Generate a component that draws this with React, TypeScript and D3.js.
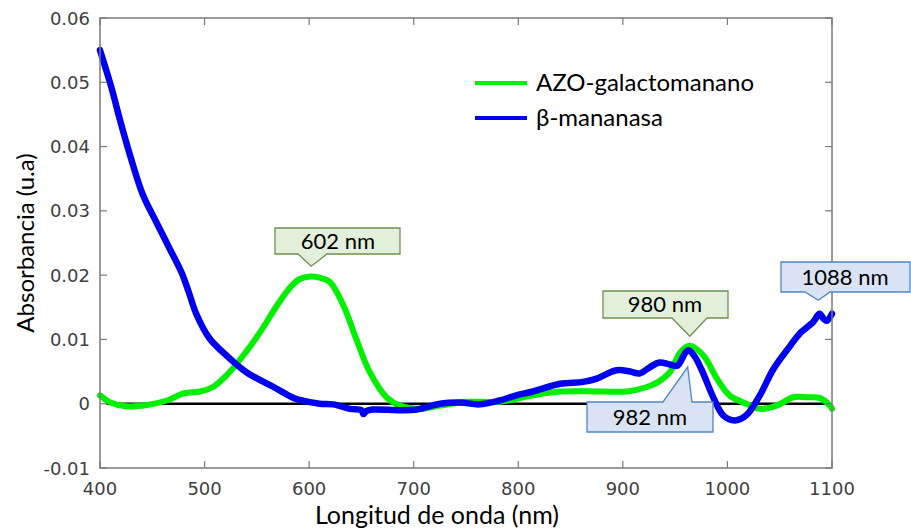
import * as d3 from "d3";

// AZO-galactomanano (green)
const greenNm = [400, 410, 425, 445, 464, 480, 496, 508, 521, 537, 553, 569, 582, 591, 601, 610, 620, 633, 645, 658, 674, 687, 706, 725, 751, 782, 814, 840, 878, 904, 923, 934, 945, 955, 964, 977, 990, 1002, 1018, 1031, 1047, 1063, 1076, 1088, 1098, 1100];
const greenAbs = [0.0013, 0.0002, -0.0004, -0.0002, 0.0005, 0.0016, 0.0019, 0.0026, 0.0044, 0.0075, 0.0111, 0.0152, 0.0181, 0.0194, 0.0198, 0.0196, 0.0189, 0.0152, 0.0101, 0.0049, 0.001, -0.0003, -0.0008, -0.0003, 0.0003, 0.0003, 0.0013, 0.0019, 0.0019, 0.0019, 0.0026, 0.0034, 0.0049, 0.008, 0.009, 0.0075, 0.0039, 0.0013, 0.0, -0.0008, -0.0003, 0.001, 0.001, 0.0009, -0.0003, -0.0008];

// beta-mananasa (blue)
const blueNm = [400, 410, 420, 429, 441, 454, 467, 478, 485, 492, 505, 521, 540, 566, 585, 591, 610, 623, 639, 650, 652, 655, 661, 687, 703, 725, 744, 763, 782, 798, 814, 840, 862, 875, 894, 907, 916, 926, 935, 945, 952, 962, 968, 975, 987, 996, 1007, 1018, 1031, 1044, 1060, 1069, 1082, 1088, 1092, 1095, 1100];
const blueAbs = [0.055, 0.0497, 0.0436, 0.0385, 0.0325, 0.0282, 0.024, 0.0204, 0.0173, 0.014, 0.0101, 0.0075, 0.0049, 0.0026, 0.0009, 0.0006, 0.0, -0.0001, -0.0008, -0.0010, -0.0016, -0.0011, -0.0009, -0.001, -0.0009, 0.0, 0.0002, -0.0001, 0.0005, 0.0013, 0.0019, 0.0031, 0.0034, 0.0039, 0.0052, 0.005, 0.0047, 0.0057, 0.0064, 0.0061, 0.0059, 0.0083, 0.0075, 0.0054, 0.0008, -0.0018, -0.0026, -0.0018, 0.0013, 0.0054, 0.009, 0.0109, 0.0127, 0.014, 0.0132, 0.0129, 0.014];

const xTicks = [400, 500, 600, 700, 800, 900, 1000, 1100];
const yTicks = [-0.01, 0, 0.01, 0.02, 0.03, 0.04, 0.05, 0.06];

const seriesNames = ["AZO-galactomanano", "β-mananasa"];
const seriesColors = ["#00f000", "#0000f0"];

// callouts: label, pointer tip (nm, absorbance)
const calloutLabels = ["602 nm", "980 nm", "1088 nm", "982 nm"];
const calloutNm = [602, 964, 1087, 962];
const calloutAbs = [0.0214, 0.0105, 0.0161, 0.0057];

const W = 911;
const H = 529;
const left = 100;
const right = 832;
const top = 18;
const bottom = 468;

const x = d3.scaleLinear().domain([400, 1100]).range([left, right]);
const y = d3.scaleLinear().domain([-0.01, 0.06]).range([bottom, top]);

const line = d3
  .line<[number, number]>()
  .x((d) => x(d[0]))
  .y((d) => y(d[1]))
  .curve(d3.curveCatmullRom.alpha(0.5));

const greenPts = greenNm.map((n, i) => [n, greenAbs[i]] as [number, number]);
const bluePts = blueNm.map((n, i) => [n, blueAbs[i]] as [number, number]);

const green = { fill: "#e2efda", stroke: "#6e9150" };
const blue = { fill: "#dae3f3", stroke: "#4f87c6" };

// box geometry relative to the pointer tip
function calloutDown(tx: number, ty: number, bx0: number, bx1: number, by0: number, by1: number, pl: number, pr: number) {
  return `M${bx0},${by0}H${bx1}V${by1}H${pr}L${tx},${ty}L${pl},${by1}H${bx0}Z`;
}
function calloutUp(tx: number, ty: number, bx0: number, bx1: number, by0: number, by1: number, pl: number, pr: number) {
  return `M${bx0},${by0}H${pl}L${tx},${ty}L${pr},${by0}H${bx1}V${by1}H${bx0}Z`;
}

export default function App() {
  const axisColor = "#7a7a7a";
  const tickFont = "'DejaVu Sans', Verdana, sans-serif";
  const titleFont = "Lato, 'Open Sans', sans-serif";
  const fmt = d3.format(".2f");

  const tips = calloutNm.map((n, i) => [x(n), y(calloutAbs[i])]);

  const boxes = [
    { d: calloutDown(tips[0][0], tips[0][1], 275, 400, 228, 254, 298, 327), c: green, tx: 338, ty: 249 },
    { d: calloutDown(tips[1][0], tips[1][1], 603, 728, 291, 318, 672, 707), c: green, tx: 665, ty: 312 },
    { d: calloutDown(tips[2][0], tips[2][1], 781, 910, 262, 292, 805, 830), c: blue, tx: 845, ty: 285 },
    { d: calloutUp(tips[3][0], tips[3][1], 587, 713, 402, 432, 663, 692), c: blue, tx: 650, ty: 425 },
  ];

  return (
    <svg width={W} height={H} style={{ position: "absolute", left: 0, top: 0, background: "#fff" }}>
      {/* zero line */}
      <line x1={x(406)} x2={x(1098)} y1={y(0)} y2={y(0)} stroke="#000" strokeWidth={2.5} />

      <path d={line(greenPts) || ""} fill="none" stroke={seriesColors[0]} strokeWidth={6} strokeLinejoin="round" strokeLinecap="round" />
      <path d={line(bluePts) || ""} fill="none" stroke={seriesColors[1]} strokeWidth={6.5} strokeLinejoin="round" strokeLinecap="round" />

      {/* axes box */}
      <rect x={left} y={top} width={right - left} height={bottom - top} fill="none" stroke={axisColor} strokeWidth={1.5} />
      {xTicks.map((t) => (
        <g key={"x" + t}>
          <line x1={x(t)} x2={x(t)} y1={bottom} y2={bottom - 7} stroke={axisColor} strokeWidth={1.2} />
          <line x1={x(t)} x2={x(t)} y1={top} y2={top + 7} stroke={axisColor} strokeWidth={1.2} />
          <text x={x(t)} y={bottom + 27} textAnchor="middle" fontFamily={tickFont} fontSize={18} fill="#404040">
            {t}
          </text>
        </g>
      ))}
      {yTicks.map((t) => (
        <g key={"y" + t}>
          <line x1={left} x2={left + 7} y1={y(t)} y2={y(t)} stroke={axisColor} strokeWidth={1.2} />
          <line x1={right} x2={right - 7} y1={y(t)} y2={y(t)} stroke={axisColor} strokeWidth={1.2} />
          <text x={90} y={y(t) + 6.5} textAnchor="end" fontFamily={tickFont} fontSize={18} fill="#404040">
            {t === 0 ? "0" : fmt(t).replace("−", "-")}
          </text>
        </g>
      ))}

      <text x={437} y={524} textAnchor="middle" fontFamily={titleFont} fontSize={25} fill="#000">
        Longitud de onda (nm)
      </text>
      <text transform="translate(34,243) rotate(-90)" textAnchor="middle" fontFamily={titleFont} fontSize={24} fill="#000">
        Absorbancia (u.a)
      </text>

      {/* legend */}
      {seriesNames.map((s, i) => (
        <g key={s} transform={`translate(0,${83 + i * 35})`}>
          <line x1={475} x2={527} y1={0} y2={0} stroke={seriesColors[i]} strokeWidth={4} />
          <text x={536} y={8} fontFamily={titleFont} fontSize={24} fill="#000">
            {s}
          </text>
        </g>
      ))}

      {/* callouts */}
      {boxes.map((b, i) => (
        <g key={calloutLabels[i]}>
          <path d={b.d} fill={b.c.fill} stroke={b.c.stroke} strokeWidth={1.3} />
          <text x={b.tx} y={b.ty} textAnchor="middle" fontFamily={titleFont} fontSize={22} fill="#000">
            {calloutLabels[i]}
          </text>
        </g>
      ))}
    </svg>
  );
}
